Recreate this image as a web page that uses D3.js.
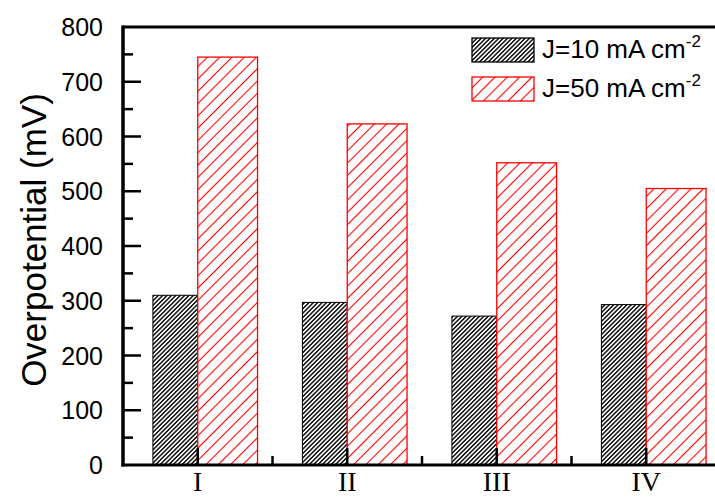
<!DOCTYPE html>
<html>
<head>
<meta charset="utf-8">
<script src="https://cdn.jsdelivr.net/npm/d3@7"></script>
<style>
  html, body { margin: 0; padding: 0; background: #fff; }
  svg { display: block; }
</style>
</head>
<body>
<svg id="chart" width="715" height="499"></svg>
<script>
// ---- data ----
const categories = ["I", "II", "III", "IV"];
const seriesNames = ["J=10 mA cm", "J=50 mA cm"];
const j10 = [310, 297, 272, 293];
const j50 = [745, 623, 552, 505];
const yTicks = [0, 100, 200, 300, 400, 500, 600, 700, 800];
const yMinorTicks = [50, 150, 250, 350, 450, 550, 650, 750];

(function () {
const svg = d3.select("#chart");
const W = 715, H = 499;
const pL = 123, pT = 27, pB = 465, pR = 721;

const x = d3.scaleBand().domain(categories).range([pL, pR]).paddingInner(0).paddingOuter(0);
const y = d3.scaleLinear().domain([0, 800]).range([pB, pT]);

// patterns
const defs = svg.append("defs");
function hatch(id, spacing, color, width) {
  const p = defs.append("pattern")
    .attr("id", id).attr("patternUnits", "userSpaceOnUse")
    .attr("width", spacing).attr("height", spacing)
    .attr("patternTransform", "rotate(45)");
  p.append("rect").attr("width", spacing).attr("height", spacing).attr("fill", "#fff");
  p.append("line").attr("x1", spacing / 2).attr("x2", spacing / 2)
    .attr("y1", 0).attr("y2", spacing)
    .attr("stroke", color).attr("stroke-width", width);
}
hatch("hBlack", 3.1, "#000", 1.4);
hatch("hRed", 8.7, "#ff0000", 1.1);

const bw = x.bandwidth();
const cx = c => x(c) + bw / 2;

// bars
const gBars = svg.append("g");
gBars.selectAll("rect.b10").data(categories).enter().append("rect")
  .attr("class", "b10")
  .attr("x", c => cx(c) - bw * 0.30)
  .attr("width", bw * 0.30)
  .attr("y", (c, i) => y(j10[i]))
  .attr("height", (c, i) => y(0) - y(j10[i]))
  .attr("fill", "url(#hBlack)").attr("stroke", "#000").attr("stroke-width", 1);
gBars.selectAll("rect.b50").data(categories).enter().append("rect")
  .attr("class", "b50")
  .attr("x", c => cx(c))
  .attr("width", bw * 0.40)
  .attr("y", (c, i) => y(j50[i]))
  .attr("height", (c, i) => y(0) - y(j50[i]))
  .attr("fill", "url(#hRed)").attr("stroke", "#ff0000").attr("stroke-width", 1.3);

// x axis ticks (inward)
const gx = svg.append("g");
categories.forEach(c => {
  gx.append("line").attr("x1", cx(c)).attr("x2", cx(c)).attr("y1", pB).attr("y2", pB - 17)
    .attr("stroke", "#000").attr("stroke-width", 2.5);
});
categories.slice(1).forEach(c => {
  gx.append("line").attr("x1", x(c)).attr("x2", x(c)).attr("y1", pB).attr("y2", pB - 9)
    .attr("stroke", "#000").attr("stroke-width", 2.5);
});
gx.selectAll("text").data(categories).enter().append("text")
  .attr("x", c => cx(c)).attr("y", 491)
  .attr("text-anchor", "middle")
  .attr("font-family", "'Liberation Serif', 'Times New Roman', serif")
  .attr("font-size", 28)
  .text(c => c);

// y axis ticks
const gy = svg.append("g");
yTicks.forEach(t => {
  if (t !== 0 && t !== 800) {
    gy.append("line").attr("x1", pL).attr("x2", pL + 18).attr("y1", y(t)).attr("y2", y(t))
      .attr("stroke", "#000").attr("stroke-width", 2.5);
  }
});
yMinorTicks.forEach(t => {
  gy.append("line").attr("x1", pL).attr("x2", pL + 10).attr("y1", y(t)).attr("y2", y(t))
    .attr("stroke", "#000").attr("stroke-width", 2.5);
});
gy.selectAll("text").data(yTicks).enter().append("text")
  .attr("x", 103).attr("y", t => y(t) + 9)
  .attr("text-anchor", "end")
  .attr("font-family", "'Liberation Sans', Arial, sans-serif")
  .attr("font-size", 25)
  .text(t => t);

// frame lines
svg.append("line").attr("x1", pL).attr("x2", W).attr("y1", pT).attr("y2", pT)
  .attr("stroke", "#000").attr("stroke-width", 3);
svg.append("line").attr("x1", pL).attr("x2", pL).attr("y1", pT - 1.5).attr("y2", pB + 1.5)
  .attr("stroke", "#000").attr("stroke-width", 3.5);
svg.append("line").attr("x1", pL - 1.5).attr("x2", W).attr("y1", pB).attr("y2", pB)
  .attr("stroke", "#000").attr("stroke-width", 3);

// y title
svg.append("text")
  .attr("transform", "translate(46,240) rotate(-90)")
  .attr("text-anchor", "middle")
  .attr("font-family", "'Liberation Sans', Arial, sans-serif")
  .attr("font-size", 35)
  .text("Overpotential (mV)");

// legend
const legend = svg.append("g");
const fills = ["url(#hBlack)", "url(#hRed)"];
const strokes = ["#000", "#ff0000"];
seriesNames.forEach((name, i) => {
  const ly = 38 + i * 39;
  legend.append("rect").attr("x", 472).attr("y", ly).attr("width", 62).attr("height", 24)
    .attr("fill", fills[i]).attr("stroke", strokes[i]).attr("stroke-width", 1.3);
  const t = legend.append("text").attr("x", 542).attr("y", ly + 20)
    .attr("font-family", "'Liberation Sans', Arial, sans-serif")
    .attr("font-size", 26);
  t.append("tspan").text(name);
  t.append("tspan").attr("dy", -11).attr("font-size", 17).text("-2");
});
})();
</script>
</body>
</html>
